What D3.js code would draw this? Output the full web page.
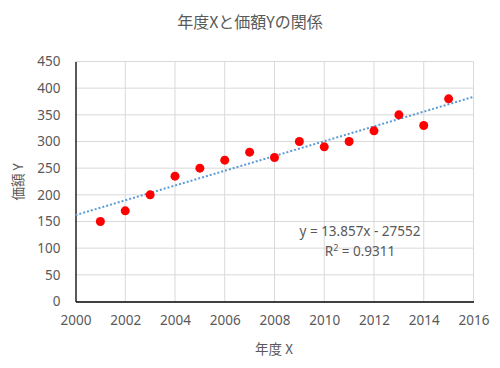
<!DOCTYPE html>
<html><head><meta charset="utf-8">
<script src="https://cdn.jsdelivr.net/npm/d3@7"></script>
<style>body{margin:0;background:#fff}</style>
</head><body>
<svg id="c" width="500" height="368"></svg>
<script>
const years = [2001,2002,2003,2004,2005,2006,2007,2008,2009,2010,2011,2012,2013,2014,2015];
const values = [150,170,200,235,250,265,280,270,300,290,300,320,350,330,380];
const xTicks = [2000,2002,2004,2006,2008,2010,2012,2014,2016];
const yTicks = [0,50,100,150,200,250,300,350,400,450];
const trend = {slope:13.857, intercept:-27552};

const svg = d3.select("#c");
const L=75.5, R=473.5, T=61.5, B=301.5;
const x = d3.scaleLinear().domain([2000,2016]).range([L,R]);
const y = d3.scaleLinear().domain([0,450]).range([B,T]);
const font = "'Noto Sans', 'Noto Sans CJK JP', sans-serif";
const grey = "#595959";

svg.append("g").selectAll("line").data(yTicks.filter(d=>d>0)).join("line")
  .attr("x1",L).attr("x2",R).attr("y1",d=>y(d)).attr("y2",d=>y(d))
  .attr("stroke","#d9d9d9").attr("stroke-width",1);
svg.append("g").selectAll("line").data(xTicks.filter(d=>d>2000)).join("line")
  .attr("x1",d=>x(d)).attr("x2",d=>x(d)).attr("y1",T).attr("y2",B)
  .attr("stroke","#d9d9d9").attr("stroke-width",1);

const yAxis = svg.append("g").attr("transform",`translate(${L},0)`)
  .call(d3.axisLeft(y).tickValues(yTicks).tickSize(0).tickPadding(15));
yAxis.select(".domain").attr("stroke","#000").attr("stroke-width",1.3);
yAxis.selectAll("text").attr("fill",grey).style("font-family",font).style("font-size","13.5px");

const xAxis = svg.append("g").attr("transform",`translate(0,${B})`)
  .call(d3.axisBottom(x).tickValues(xTicks).tickFormat(d3.format("d")).tickSize(0).tickPadding(14));
xAxis.select(".domain").attr("stroke","#000").attr("stroke-width",1.3);
xAxis.selectAll("text").attr("fill",grey).style("font-family",font).style("font-size","13.5px");

svg.append("line")
  .attr("x1",x(2000)).attr("y1",y(trend.slope*2000+trend.intercept))
  .attr("x2",x(2016)).attr("y2",y(trend.slope*2016+trend.intercept))
  .attr("stroke","#5b9bd5").attr("stroke-width",2).attr("stroke-dasharray","2,2");

svg.append("g").selectAll("circle").data(years.map((d,i)=>[d,values[i]])).join("circle")
  .attr("cx",d=>x(d[0])).attr("cy",d=>y(d[1])).attr("r",4.5).attr("fill","#ff0000");

svg.append("text").attr("x",250).attr("y",28).attr("text-anchor","middle")
  .attr("fill",grey).style("font-family","'Noto Sans CJK JP', sans-serif").style("font-size","16px")
  .text("年度Xと価額Yの関係");
svg.append("text").attr("x",274).attr("y",354).attr("text-anchor","middle")
  .attr("fill",grey).style("font-family","'Noto Sans CJK JP', sans-serif").style("font-size","13.5px")
  .text("年度 X");
svg.append("text").attr("transform","translate(23,182) rotate(-90)").attr("text-anchor","middle")
  .attr("fill",grey).style("font-family","'Noto Sans CJK JP', sans-serif").style("font-size","13.5px")
  .text("価額 Y");

const eq = svg.append("text").attr("x",360).attr("y",236).attr("text-anchor","middle")
  .attr("fill",grey).style("font-family",font).style("font-size","13.5px")
  .text("y = 13.857x - 27552");
const r2 = svg.append("text").attr("x",360).attr("y",256).attr("text-anchor","middle")
  .attr("fill",grey).style("font-family",font).style("font-size","13.5px");
r2.append("tspan").text("R");
r2.append("tspan").attr("dy",-5).style("font-size","9px").text("2");
r2.append("tspan").attr("dy",5).text(" = 0.9311");
</script>
</body></html>
